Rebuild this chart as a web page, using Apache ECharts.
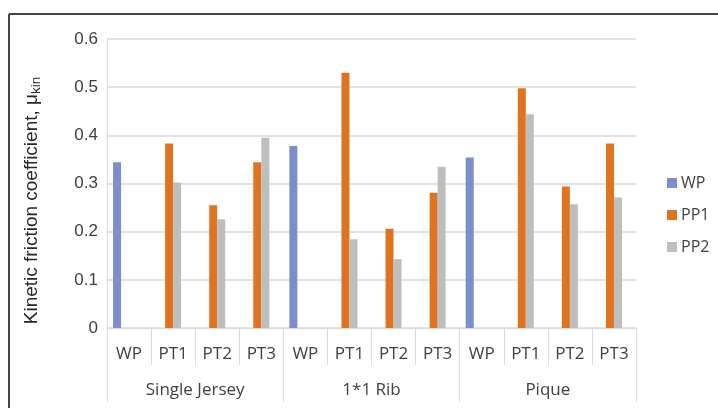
<!DOCTYPE html>
<html>
<head>
<meta charset="utf-8">
<script src="https://cdn.jsdelivr.net/npm/echarts@6/dist/echarts.min.js"></script>
<style>
  html, body { margin: 0; padding: 0; background: #fff; }
  #chart { width: 718px; height: 408px; }
</style>
</head>
<body>
<div id="chart"></div>
<script>
// x axis: sample per category, fabric groups underneath
const categories = ['WP', 'PT1', 'PT2', 'PT3', 'WP', 'PT1', 'PT2', 'PT3', 'WP', 'PT1', 'PT2', 'PT3']
const groups = ['Single Jersey', '1*1 Rib', 'Pique']
const yTicks = [0, 0.1, 0.2, 0.3, 0.4, 0.5, 0.6]

// kinetic friction coefficient values
const wpValues = [0.344, null, null, null, 0.378, null, null, null, 0.354, null, null, null]
const pp1Values = [null, 0.383, 0.255, 0.344, null, 0.530, 0.206, 0.281, null, 0.498, 0.294, 0.383]
const pp2Values = [null, 0.302, 0.226, 0.395, null, 0.184, 0.143, 0.335, null, 0.444, 0.257, 0.271]
const emptyValues = categories.map(() => null) // keeps the 4th slot free like the original

const chart = echarts.init(document.getElementById('chart'))

const gridColor = '#d9d9d9'
const textColor = '#404040'

chart.setOption({
  animation: false,
  textStyle: { fontFamily: 'Open Sans' },
  grid: { left: 107, right: 82, top: 39, bottom: 80 },
  legend: {
    data: ['WP', 'PP1', 'PP2'],
    orient: 'vertical',
    left: 662,
    top: 170,
    itemWidth: 10,
    itemHeight: 10,
    itemGap: 16,
    icon: 'rect',
    selectedMode: false,
    textStyle: { fontSize: 16, color: textColor, fontFamily: 'Open Sans', padding: [0, 0, 0, -1] }
  },
  graphic: [
    { type: 'line', shape: { x1: 9, y1: 14, x2: 718, y2: 14 }, style: { stroke: '#444', lineWidth: 2 } },
    { type: 'line', shape: { x1: 9, y1: 14, x2: 9, y2: 408 }, style: { stroke: '#444', lineWidth: 2 } }
  ],
  xAxis: [
    {
      type: 'category',
      data: categories,
      position: 'bottom',
      axisLine: { show: true, lineStyle: { color: gridColor } },
      axisTick: { show: true, length: 37, interval: 0, lineStyle: { color: gridColor } },
      axisLabel: { interval: 0, fontSize: 17, color: textColor, margin: 18 },
      splitLine: { show: false }
    },
    {
      type: 'category',
      data: groups,
      position: 'bottom',
      offset: 37,
      axisLine: { show: false },
      axisTick: { show: true, length: 37, interval: 0, lineStyle: { color: gridColor } },
      axisLabel: { interval: 0, fontSize: 17, color: textColor, margin: 17 },
      splitLine: { show: false }
    }
  ],
  yAxis: {
    type: 'value',
    min: yTicks[0],
    max: yTicks[yTicks.length - 1],
    interval: 0.1,
    axisLine: { show: true, lineStyle: { color: gridColor } },
    axisTick: { show: false },
    axisLabel: {
      fontSize: 17,
      color: textColor,
      fontFamily: 'Liberation Sans',
      margin: 9,
      formatter: v => String(Math.round(v * 10) / 10)
    },
    splitLine: { show: true, lineStyle: { color: gridColor, width: 1.5 } },
    name: 'Kinetic friction coefficient, μ{sub|kin}',
    nameLocation: 'middle',
    nameGap: 64,
    nameTextStyle: {
      fontSize: 19,
      color: '#262626',
      fontFamily: 'Liberation Sans',
      padding: [0, 34, 0, 0],
      rich: {
        sub: { fontSize: 13.5, color: '#262626', fontFamily: 'Liberation Sans', verticalAlign: 'bottom', padding: [8, 0, 0, 0] }
      }
    }
  },
  series: [
    { name: 'WP', type: 'bar', data: wpValues, barWidth: 8, barGap: '0%', itemStyle: { color: '#7b8ecb' } },
    { name: 'PP1', type: 'bar', data: pp1Values, barWidth: 8, barGap: '0%', itemStyle: { color: '#e07322' } },
    { name: 'PP2', type: 'bar', data: pp2Values, barWidth: 8, barGap: '0%', itemStyle: { color: '#bebebe' } },
    { name: '', type: 'bar', data: emptyValues, barWidth: 8, barGap: '0%' }
  ]
})
</script>
</body>
</html>
